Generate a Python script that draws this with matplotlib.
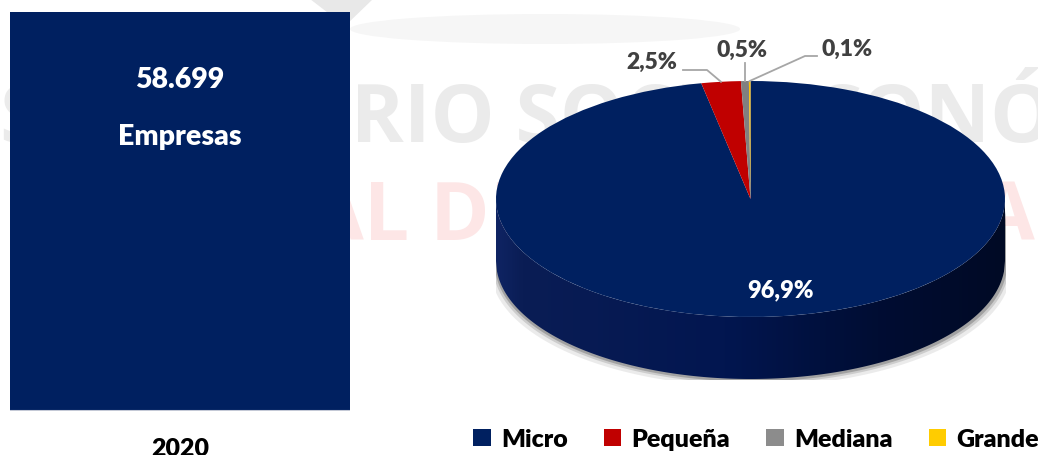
import matplotlib
matplotlib.use('Agg')
import matplotlib.pyplot as plt
import numpy as np
from matplotlib.patches import Patch, Polygon, Ellipse
from matplotlib.colors import LinearSegmentedColormap

# ---------------- data ----------------
years = ['2020']
total_empresas = [58699]
bar_text = ['58.699', 'Empresas']
categories = ['Micro', 'Pequeña', 'Mediana', 'Grande']
shares = [96.9, 2.5, 0.5, 0.1]
pie_colors = ['#002060', '#C00000', '#808080', '#FFC000']
legend_colors = ['#002060', '#C00000', '#8C8C8C', '#FFCC00']

plt.rcParams['font.family'] = ['Lato', 'DejaVu Sans']
WEIGHT = 800

W, H = 1038, 456
fig = plt.figure(figsize=(W / 100, H / 100), dpi=100)
fig.patch.set_facecolor('white')


def fx(px):
    return px / W


def fy(py):
    return 1 - py / H


# ---------------- watermark ----------------
fig.text(fx(-118), fy(142), 'OBSERVATORIO SOCIOECONÓMICO', fontsize=58,
         fontweight='bold', color='#ebebeb', ha='left', va='baseline', zorder=-1,
         family=['Open Sans', 'DejaVu Sans'])
fig.text(fx(36), fy(240), 'LABORAL DE CARTAGENA', fontsize=58,
         fontweight='bold', color='#fde6e6', ha='left', va='baseline', zorder=-1,
         family=['Open Sans', 'DejaVu Sans'])
fig.patches.append(Polygon([(fx(310), fy(0)), (fx(373), fy(0)), (fx(345), fy(27))],
                           closed=True, transform=fig.transFigure,
                           facecolor='#e8e8e8', edgecolor='none', zorder=-2))
fig.patches.append(Ellipse((fx(545), fy(30)), fx(390), 30 / H, transform=fig.transFigure,
                           facecolor='#f6f6f6', edgecolor='none', zorder=-2))

# ---------------- bar ----------------
axb = fig.add_axes([fx(10), fy(412), fx(340), (412 - 13) / H])
axb.patch.set_visible(False)
axb.bar(years, total_empresas, width=1.0, color='#002060', zorder=2)
axb.set_xlim(-0.5, 0.5)
axb.set_ylim(0, total_empresas[0])
for s in axb.spines.values():
    s.set_visible(False)
axb.axhline(0, color='#c4c9d6', lw=1.5, zorder=3)
axb.set_yticks([])
axb.tick_params(axis='x', length=0, pad=19, labelsize=18)
for lbl in axb.get_xticklabels():
    lbl.set_fontweight(WEIGHT)
axb.text(0.5, 0.812, bar_text[0], transform=axb.transAxes, ha='center', va='baseline',
         color='white', fontsize=20.5, fontweight=WEIGHT, zorder=4)
axb.text(0.5, 0.669, bar_text[1], transform=axb.transAxes, ha='center', va='baseline',
         color='white', fontsize=20.5, fontweight=WEIGHT, zorder=4)

# ---------------- 3D-looking pie ----------------
a_px, b_px, cx_px, cy_px, h_px = 254.5, 118.0, 750.5, 200.0, 62.0
h = h_px / b_px
axp = fig.add_axes([fx(cx_px - a_px), fy(cy_px + b_px + h_px), 2 * a_px / W, (2 * b_px + h_px) / H])
axp.patch.set_visible(False)


def to_data(px, py):
    return ((px - cx_px) / a_px, (cy_px - py) / b_px)


wedges, texts, autotexts = axp.pie(
    shares, colors=pie_colors, startangle=90, counterclock=False,
    autopct=lambda p: f'{p:.1f}%'.replace('.', ','), pctdistance=0.77,
    wedgeprops=dict(linewidth=0), radius=1, center=(0, 0))
for w in wedges:
    w.set_zorder(2)

# side wall
xs = np.linspace(-1, 1, 500)
top = -np.sqrt(np.clip(1 - xs ** 2, 0, None))
bot = top - h
for d, al in [(7 / b_px, 0.10), (4 / b_px, 0.18), (2 / b_px, 0.30)]:
    axp.fill_between(xs * (1 + 0.4 * d), top, bot - d, color='#404040', alpha=al, lw=0, zorder=0.3)
verts = np.column_stack([np.r_[xs, xs[::-1]], np.r_[top, bot[::-1]]])
side = Polygon(verts, closed=True, facecolor='none', edgecolor='none')
axp.add_patch(side)
cmap = LinearSegmentedColormap.from_list(
    'side', [(0, '#0f2463'), (0.05, '#0a1d55'), (0.45, '#021650'), (0.75, '#000d33'), (1, '#000a25')])
grad = np.linspace(0, 1, 256)[None, :]
im = axp.imshow(grad, extent=[-1, 1, -1 - h, 0], cmap=cmap, aspect='auto', zorder=0.5)
im.set_clip_path(side)

axp.set_aspect('auto')
axp.set_xlim(-1, 1)
axp.set_ylim(-1 - h, 1)
axp.axis('off')

# main label
autotexts[0].set_position(to_data(781, 290))
autotexts[0].set_color('white')
autotexts[0].set_fontsize(17)
autotexts[0].set_fontweight(WEIGHT)

# outside labels with leader lines (label position, elbow, line end) in pixels
label_layout = {
    1: ((652, 62), (707, 71), (683, 71)),
    2: ((742, 50), None, (748, 64)),
    3: ((847, 49), (805, 57), (817, 57)),
}
for i, (lab, elbow, end) in label_layout.items():
    t = autotexts[i]
    t.set_position(to_data(*lab))
    t.set_color('#404040')
    t.set_fontsize(16.5)
    t.set_fontweight(WEIGHT)
    t.set_ha('center')
    t.set_va('center')
    t.set_clip_on(False)
    th = np.deg2rad((wedges[i].theta1 + wedges[i].theta2) / 2)
    ax0, ay0 = np.cos(th), np.sin(th)
    if elbow is None:
        ex, ey = to_data(*end)
        pts = [(ax0, ay0), (ax0, ey)]
    else:
        pts = [(ax0, ay0), to_data(*elbow), to_data(*end)]
    px_, py_ = zip(*pts)
    axp.plot(px_, py_, color='#a6a6a6', lw=1.3, clip_on=False, zorder=3)

# ---------------- legend ----------------
handles = [Patch(facecolor=c, edgecolor='none', label=l) for c, l in zip(legend_colors, categories)]
fig.legend(handles=handles, loc='center', bbox_to_anchor=(fx(756), fy(440)), ncol=4,
           frameon=False, prop=dict(weight=WEIGHT, size=18), handlelength=0.7,
           handleheight=0.7, handletextpad=0.4, columnspacing=1.45, borderpad=0, borderaxespad=0)

fig.savefig('out.png', dpi=100, facecolor='white')
